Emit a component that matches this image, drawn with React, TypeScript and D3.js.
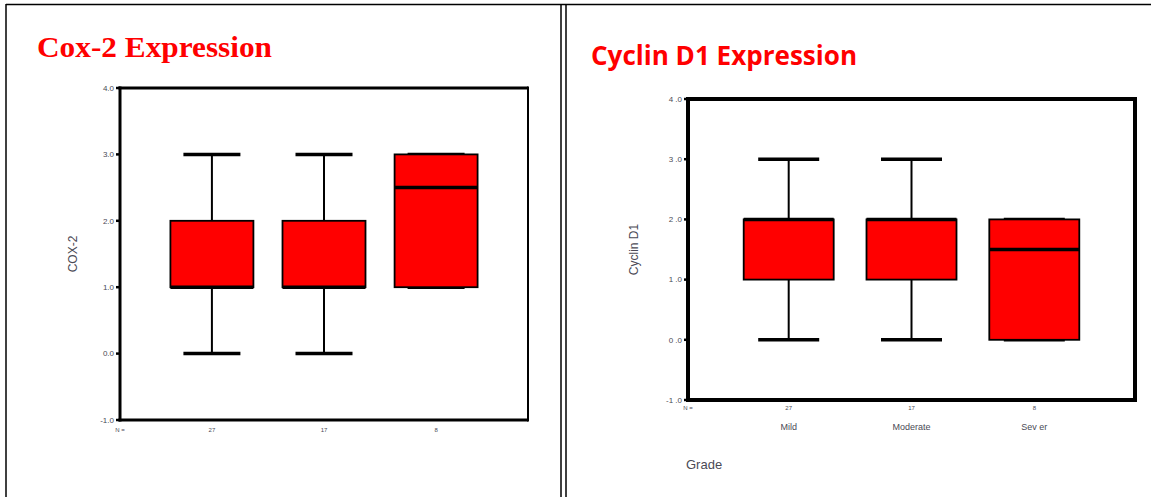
import * as d3 from 'd3'

const categories = ['Mild', 'Moderate', 'Sever']
const categoryLabels = ['Mild', 'Moderate', 'Sev er']
const counts = [27, 17, 8]
const yTicks = [-1, 0, 1, 2, 3, 4]

// Cox-2 boxplot stats
const coxMin = [0, 0, 1]
const coxQ1 = [1, 1, 1]
const coxMedian = [1, 1, 2.5]
const coxQ3 = [2, 2, 3]
const coxMax = [3, 3, 3]

// Cyclin D1 boxplot stats
const cycMin = [0, 0, 0]
const cycQ1 = [1, 1, 0]
const cycMedian = [2, 2, 1.5]
const cycQ3 = [2, 2, 2]
const cycMax = [3, 3, 2]

interface PanelProps {
    left: number
    right: number
    top: number
    bottom: number
    boxWidth: number
    capWidth: number
    frame: number
    rightFrame: number
    min: number[]
    q1: number[]
    median: number[]
    q3: number[]
    max: number[]
    yLabel: string
    yLabelX: number
    tickFmt: (d: number) => string
    nY: number
    showCats: boolean
}

const BoxPanel = (p: PanelProps) => {
    const x = d3.scalePoint<string>().domain(categories).range([p.left, p.right]).padding(0.82)
    const y = d3.scaleLinear().domain([-1, 4]).range([p.bottom, p.top])
    const grey = '#4a4a55'
    const f = p.frame / 2

    return (
        <g>
            {categories.map((c, i) => {
                const cx = x(c) as number
                return (
                    <g key={c}>
                        <line x1={cx} x2={cx} y1={y(p.max[i])} y2={y(p.q3[i])} stroke="black" strokeWidth={2} />
                        <line x1={cx} x2={cx} y1={y(p.q1[i])} y2={y(p.min[i])} stroke="black" strokeWidth={2} />
                        <line x1={cx - p.capWidth / 2} x2={cx + p.capWidth / 2} y1={y(p.max[i])} y2={y(p.max[i])} stroke="black" strokeWidth={3.5} />
                        <line x1={cx - p.capWidth / 2} x2={cx + p.capWidth / 2} y1={y(p.min[i])} y2={y(p.min[i])} stroke="black" strokeWidth={3.5} />
                        <rect x={cx - p.boxWidth / 2} width={p.boxWidth} y={y(p.q3[i])} height={y(p.q1[i]) - y(p.q3[i])}
                            fill="#ff0000" stroke="black" strokeWidth={1.8} />
                        <line x1={cx - p.boxWidth / 2} x2={cx + p.boxWidth / 2} y1={y(p.median[i])} y2={y(p.median[i])} stroke="black" strokeWidth={3.5} />
                        <text x={cx} y={p.nY} fontSize={6} fill={grey} textAnchor="middle">{counts[i]}</text>
                        {p.showCats &&
                            <text x={cx} y={p.nY + 20} fontSize={9} fill={grey} textAnchor="middle">{categoryLabels[i]}</text>}
                    </g>
                )
            })}
            {/* frame */}
            <line x1={p.left - f} x2={p.right} y1={p.top} y2={p.top} stroke="black" strokeWidth={p.frame} />
            <line x1={p.left - f} x2={p.right} y1={p.bottom} y2={p.bottom} stroke="black" strokeWidth={p.frame} />
            <line x1={p.left} x2={p.left} y1={p.top - f} y2={p.bottom + f} stroke="black" strokeWidth={p.frame} />
            <line x1={p.right} x2={p.right} y1={p.top - f} y2={p.bottom + f} stroke="black" strokeWidth={p.rightFrame} />
            {yTicks.map(t => (
                <g key={t}>
                    <line x1={p.left - 4} x2={p.left} y1={y(t)} y2={y(t)} stroke="black" strokeWidth={2.5} />
                    <text x={p.left - 6} y={y(t)} dy="0.35em" fontSize={8} fill={grey} textAnchor="end">{p.tickFmt(t)}</text>
                </g>
            ))}
            <text x={p.left} y={p.nY} fontSize={6} fill={grey} textAnchor="middle">N =</text>
            <text transform={`translate(${p.yLabelX},${(p.top + p.bottom) / 2}) rotate(-90)`} fontSize={12}
                fill={grey} textAnchor="middle">{p.yLabel}</text>
        </g>
    )
}

const fmt1 = (d: number) => d.toFixed(1)

export default function App() {
    const sans = 'Liberation Sans, Arial, sans-serif'
    return (
        <svg width={1151} height={497} style={{ position: 'absolute', left: 0, top: 0, background: 'white' }} fontFamily={sans}>
            {/* page frame */}
            <line x1={6} x2={6} y1={4} y2={497} stroke="black" strokeWidth={1.5} />
            <line x1={6} x2={1151} y1={4.5} y2={4.5} stroke="black" strokeWidth={1.5} />
            <line x1={561} x2={561} y1={4} y2={497} stroke="black" strokeWidth={1.5} />
            <line x1={566} x2={566} y1={4} y2={497} stroke="black" strokeWidth={1.5} />

            <text x={37} y={57} fontFamily="Liberation Serif, Times New Roman, serif" fontWeight="bold" fontSize={29}
                fill="#ff0000" textLength={235} lengthAdjust="spacingAndGlyphs">Cox-2 Expression</text>
            <text x={591} y={65} fontFamily="Open Sans, sans-serif" fontWeight="bold" fontSize={26}
                fill="#ff0000" textLength={266} lengthAdjust="spacingAndGlyphs">Cyclin D1 Expression</text>

            <BoxPanel left={120} right={528} top={88} bottom={420} boxWidth={83} capWidth={57} frame={3} rightFrame={2}
                min={coxMin} q1={coxQ1} median={coxMedian} q3={coxQ3} max={coxMax}
                yLabel="COX-2" yLabelX={77} tickFmt={fmt1} nY={432} showCats={false} />
            <BoxPanel left={688} right={1135} top={99} bottom={400} boxWidth={90} capWidth={61} frame={4} rightFrame={4}
                min={cycMin} q1={cycQ1} median={cycMedian} q3={cycQ3} max={cycMax}
                yLabel="Cyclin D1" yLabelX={638} tickFmt={(d) => fmt1(d).replace('.', ' .')} nY={410} showCats={true} />

            <text x={686} y={469} fontSize={13} fill="#4a4a55">Grade</text>
        </svg>
    )
}
